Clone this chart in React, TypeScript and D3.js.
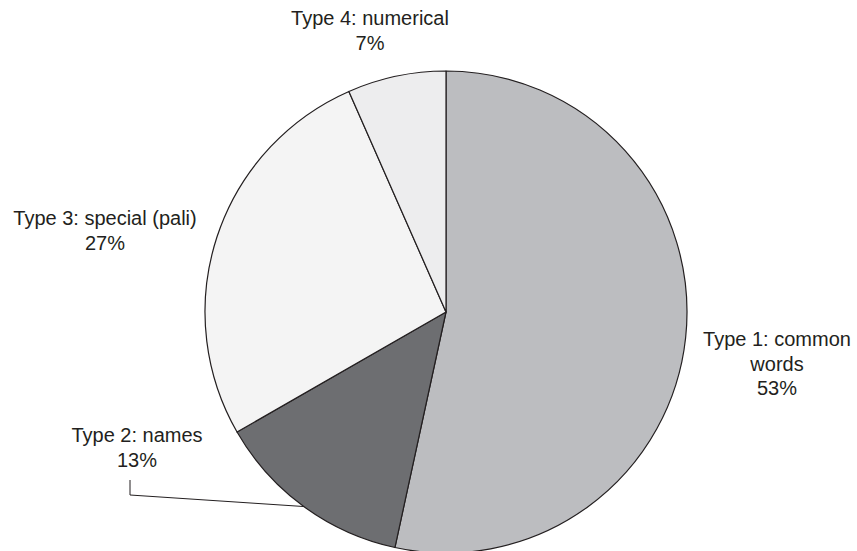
import React, { useEffect, useRef } from 'react';
import * as d3 from 'd3';

const categories = ['Type 1: common words', 'Type 2: names', 'Type 3: special (pali)', 'Type 4: numerical'];
const shares = [53.4, 13.3, 26.7, 6.6];
const colors = ['#bcbdc0', '#6d6e71', '#f4f4f4', '#ededee'];
// label text lines per slice (wrapped like the original)
const labelLines = [['Type 1: common', 'words'], ['Type 2: names'], ['Type 3: special (pali)'], ['Type 4: numerical']];
// label anchor (centre x, first baseline y)
const labelPos = [[777, 346], [137, 442], [105, 225], [370, 25]];

const width = 857;
const height = 551;

const App: React.FC = () => {
  const svgRef = useRef<SVGSVGElement>(null);

  useEffect(() => {
    if (!svgRef.current) return;
    const svg = d3.select(svgRef.current);
    svg.selectAll('*').remove();

    const cx = 446;
    const cy = 312;
    const r = 241;

    const g = svg.append('g').attr('transform', `translate(${cx},${cy})`);

    const pie = d3.pie<number>().sort(null).value(d => d);
    const arcs = pie(shares);
    const arc = d3.arc<d3.PieArcDatum<number>>().innerRadius(0).outerRadius(r);

    g.selectAll('path.slice')
      .data(arcs)
      .enter()
      .append('path')
      .attr('class', 'slice')
      .attr('d', arc)
      .attr('fill', (d, i) => colors[i])
      .attr('stroke', '#231f20')
      .attr('stroke-width', 1.2)
      .attr('stroke-linejoin', 'round');

    // leader line for Type 2
    const a2 = arcs[1];
    const mid = (a2.startAngle + a2.endAngle) / 2;
    const ex = cx + r * Math.sin(mid);
    const ey = cy - r * Math.cos(mid);
    svg.append('path')
      .attr('d', `M130,480 L130,495 L${ex},${ey}`)
      .attr('fill', 'none')
      .attr('stroke', '#231f20')
      .attr('stroke-width', 1);

    // labels
    const lineH = 24.5;
    arcs.forEach((a, i) => {
      const [lx, ly] = labelPos[i];
      const lines = [...labelLines[i], `${Math.round(shares[i])}%`];
      const t = svg.append('text')
        .attr('text-anchor', 'middle')
        .attr('font-family', 'Liberation Sans, Arial, sans-serif')
        .attr('font-size', 20)
        .attr('fill', '#231f20');
      lines.forEach((ln, j) => {
        t.append('tspan').attr('x', lx).attr('y', ly + j * lineH).text(ln);
      });
    });
  }, []);

  return (
    <svg
      ref={svgRef}
      width={width}
      height={height}
      style={{ position: 'absolute', left: 0, top: 0, background: '#ffffff' }}
      aria-label={categories.join(', ')}
    />
  );
};

export default App;
